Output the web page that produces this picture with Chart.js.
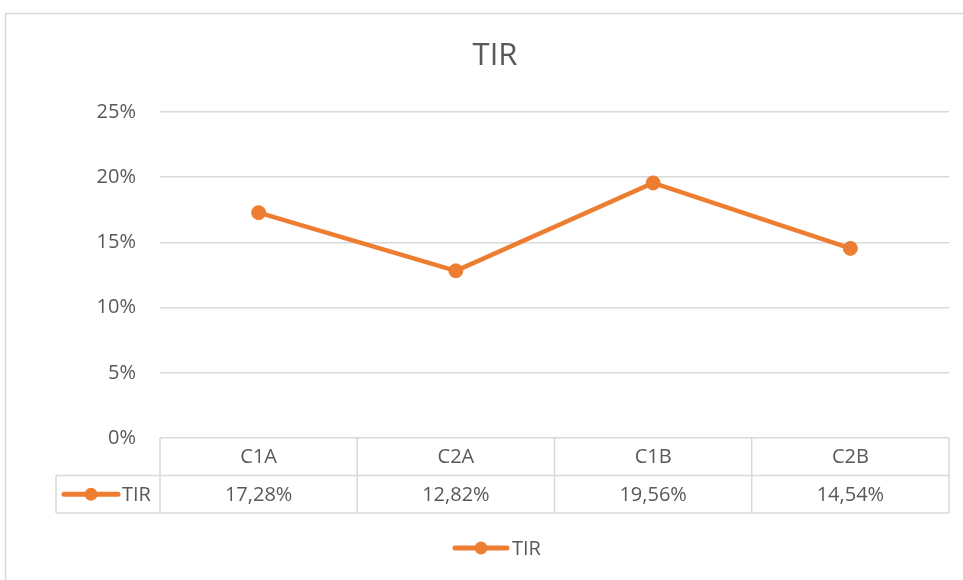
<!DOCTYPE html>
<html>
<head>
<meta charset="utf-8">
<script src="https://cdn.jsdelivr.net/npm/chart.js"></script>
<style>
  html, body { margin: 0; padding: 0; background: #fff; overflow: hidden; }
  #wrap { width: 963px; height: 580px; }
</style>
</head>
<body>
<div id="wrap"><canvas id="chart" width="963" height="580"></canvas></div>
<script>
const categories = ['C1A', 'C2A', 'C1B', 'C2B'];
const tirValues = [17.28, 12.82, 19.56, 14.54];
const seriesName = 'TIR';
const chartTitle = 'TIR';

const ORANGE = '#ED7D31';
const GRID = '#d9d9d9';
const TEXT = '#595959';
const FONT = '"Open Sans", sans-serif';

function fmtPct(v) {
  return v.toFixed(2).replace('.', ',') + '%';
}

// little line-with-dot marker, as in the Excel legend
function drawKey(ctx, x1, x2, y) {
  ctx.save();
  ctx.strokeStyle = ORANGE;
  ctx.lineWidth = 5;
  ctx.lineCap = 'round';
  ctx.beginPath();
  ctx.moveTo(x1, y);
  ctx.lineTo(x2, y);
  ctx.stroke();
  ctx.fillStyle = ORANGE;
  ctx.beginPath();
  ctx.arc((x1 + x2) / 2, y, 6.5, 0, Math.PI * 2);
  ctx.fill();
  ctx.restore();
}

const tablePlugin = {
  id: 'dataTable',
  beforeDraw(chart) {
    const ctx = chart.ctx;
    ctx.save();
    ctx.strokeStyle = GRID;
    ctx.lineWidth = 1.5;
    ctx.strokeRect(5.5, 13.5, 2000, 2000);
    // title, centred on the chart box (which runs past the right edge)
    ctx.fillStyle = TEXT;
    ctx.font = '31px ' + FONT;
    ctx.textAlign = 'center';
    ctx.textBaseline = 'middle';
    ctx.fillText(chartTitle, 495, 56);
    ctx.restore();
  },
  afterDraw(chart) {
    const ctx = chart.ctx;
    const x = chart.scales.x;
    const area = chart.chartArea;
    const top = area.bottom;
    const rowH = 37.5;
    const mid = top + rowH;
    const bottom = top + rowH * 2;
    const half = (x.getPixelForValue(1) - x.getPixelForValue(0)) / 2;
    const keyLeft = 56;

    ctx.save();
    ctx.strokeStyle = GRID;
    ctx.lineWidth = 1.5;
    ctx.beginPath();
    // horizontal rules
    ctx.moveTo(keyLeft, mid); ctx.lineTo(area.right, mid);
    ctx.moveTo(keyLeft, bottom); ctx.lineTo(area.right, bottom);
    // vertical rules
    ctx.moveTo(keyLeft, mid); ctx.lineTo(keyLeft, bottom);
    ctx.moveTo(area.left, top); ctx.lineTo(area.left, bottom);
    categories.forEach((c, i) => {
      const px = x.getPixelForValue(i) + half;
      ctx.moveTo(px, top); ctx.lineTo(px, bottom);
    });
    ctx.stroke();

    ctx.fillStyle = TEXT;
    ctx.font = '20px ' + FONT;
    ctx.textAlign = 'center';
    ctx.textBaseline = 'middle';
    categories.forEach((c, i) => {
      const px = x.getPixelForValue(i);
      ctx.fillText(c, px, top + rowH / 2 + 1);
      ctx.fillText(fmtPct(tirValues[i]), px, mid + rowH / 2 + 1);
    });

    // series key inside the table
    drawKey(ctx, 64, 118, mid + rowH / 2);
    ctx.textAlign = 'left';
    ctx.fillText(seriesName, 122, mid + rowH / 2 + 1);

    // legend under the table
    const ly = 548;
    drawKey(ctx, 455, 507, ly);
    ctx.fillText(seriesName, 512, ly + 1);
    ctx.restore();
  }
};

new Chart(document.getElementById('chart'), {
  type: 'line',
  data: {
    labels: categories,
    datasets: [{
      label: seriesName,
      data: tirValues,
      borderColor: ORANGE,
      backgroundColor: ORANGE,
      borderWidth: 4.5,
      pointRadius: 7,
      pointHoverRadius: 7,
      pointBorderWidth: 1,
      pointBackgroundColor: ORANGE,
      tension: 0
    }]
  },
  options: {
    responsive: false,
    animation: false,
    layout: { padding: { left: 0, right: 14, top: 112, bottom: 67 } },
    plugins: {
      legend: { display: false },
      tooltip: { enabled: false },
      title: { display: false }
    },
    scales: {
      x: {
        offset: true,
        grid: { display: false },
        border: { display: false },
        ticks: { display: false },
        afterFit(scale) { scale.height = 75; }
      },
      y: {
        min: 0,
        max: 25,
        ticks: {
          stepSize: 5,
          padding: 24,
          color: TEXT,
          font: { family: FONT, size: 20 },
          callback: v => v + '%'
        },
        grid: { color: GRID, lineWidth: 1.5, drawTicks: false },
        border: { display: false },
        afterFit(scale) { scale.width = 160; }
      }
    }
  },
  plugins: [tablePlugin]
});
</script>
</body>
</html>
